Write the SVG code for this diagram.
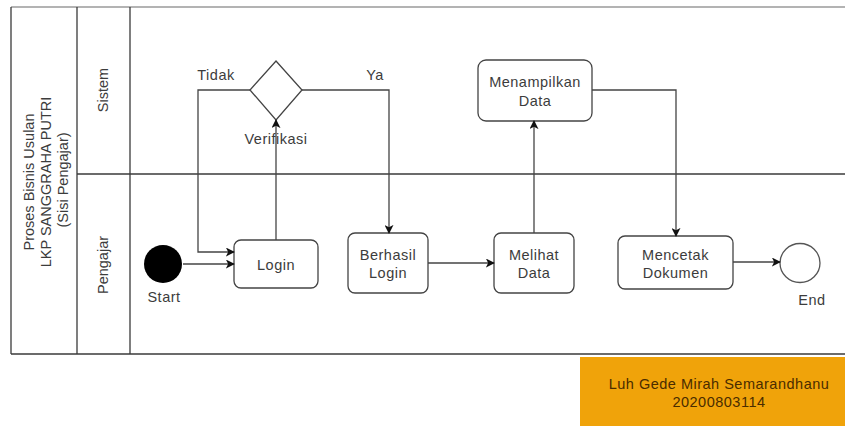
<svg xmlns="http://www.w3.org/2000/svg" width="845" height="426" viewBox="0 0 845 426">
  <style>
    .lane { fill: none; stroke: #3a3a3a; stroke-width: 1.3; }
    .box { fill: #ffffff; stroke: #444444; stroke-width: 1.3; }
    .t { font-family: "Liberation Sans", Arial, sans-serif; font-size: 14.5px; fill: #3c3c3c; text-anchor: middle; letter-spacing: 0.5px; }
    .tv { font-family: "Liberation Sans", Arial, sans-serif; font-size: 14.5px; fill: #3c3c3c; text-anchor: middle; }
    .edge { fill: none; stroke: #444444; stroke-width: 1.3; }
  </style>
  <defs>
    <marker id="arrow" viewBox="0 0 10 10" refX="9" refY="5" markerWidth="9" markerHeight="9" markerUnits="userSpaceOnUse" orient="auto">
      <path d="M0,0 L10,5 L0,10 L2.5,5 Z" fill="#111111"/>
    </marker>
  </defs>

  <rect width="845" height="426" fill="#ffffff"/>

  <!-- pool frame and lanes -->
  <g id="pool">
    <line x1="11" y1="7" x2="845" y2="7" stroke="#9a9a9a" stroke-width="1.3"/>
    <line class="lane" x1="11" y1="7" x2="11" y2="354"/>
    <line class="lane" x1="77" y1="7" x2="77" y2="354"/>
    <line class="lane" x1="130" y1="7" x2="130" y2="354"/>
    <line class="lane" x1="77" y1="174" x2="845" y2="174"/>
    <line class="lane" x1="11" y1="354" x2="845" y2="354"/>
    <text class="tv" transform="translate(47,180) rotate(-90)">
      <tspan x="0" y="-13">Proses Bisnis Usulan</tspan>
      <tspan x="0" y="4">LKP SANGGRAHA PUTRI</tspan>
      <tspan x="0" y="21">(Sisi Pengajar)</tspan>
    </text>
    <text class="tv" transform="translate(103,90) rotate(-90)" y="5">Sistem</text>
    <text class="tv" transform="translate(103,265) rotate(-90)" y="5">Pengajar</text>
  </g>

  <!-- start event -->
  <g id="start">
    <circle cx="163" cy="264" r="19" fill="#000000"/>
    <text class="t" x="164" y="302">Start</text>
  </g>

  <g id="login">
    <rect class="box" x="234" y="240" width="84" height="48" rx="7"/>
    <text class="t" x="276" y="270">Login</text>
  </g>

  <g id="verifikasi">
    <polygon class="box" points="276,61 302,90 276,120 250,90"/>
    <text class="t" x="276" y="144">Verifikasi</text>
  </g>

  <g id="berhasil-login">
    <rect class="box" x="348" y="233" width="80" height="60" rx="7"/>
    <text class="t" x="388" y="260">Berhasil</text>
    <text class="t" x="388" y="278">Login</text>
  </g>

  <g id="melihat-data">
    <rect class="box" x="494" y="233" width="80" height="60" rx="7"/>
    <text class="t" x="534" y="260">Melihat</text>
    <text class="t" x="534" y="278">Data</text>
  </g>

  <g id="menampilkan-data">
    <rect class="box" x="478" y="60" width="114" height="61" rx="8"/>
    <text class="t" x="535" y="87">Menampilkan</text>
    <text class="t" x="535" y="106">Data</text>
  </g>

  <g id="mencetak-dokumen">
    <rect class="box" x="618" y="236" width="115" height="53" rx="7"/>
    <text class="t" x="675.5" y="260">Mencetak</text>
    <text class="t" x="675.5" y="278">Dokumen</text>
  </g>

  <!-- end event -->
  <g id="end">
    <ellipse cx="800" cy="263" rx="20" ry="19.5" fill="#ffffff" stroke="#555555" stroke-width="1.3"/>
    <text class="t" x="812" y="305">End</text>
  </g>

  <!-- connectors -->
  <g id="connectors">
    <line class="edge" x1="183" y1="264" x2="234" y2="264" marker-end="url(#arrow)"/>
    <line class="edge" x1="276" y1="240" x2="276" y2="120" marker-end="url(#arrow)"/>
    <polyline class="edge" points="250,90 198,90 198,252 234,252" marker-end="url(#arrow)"/>
    <text class="t" x="216" y="80">Tidak</text>
    <polyline class="edge" points="302,90 389,90 389,233" marker-end="url(#arrow)"/>
    <text class="t" x="375" y="80">Ya</text>
    <line class="edge" x1="428" y1="263" x2="494" y2="263" marker-end="url(#arrow)"/>
    <line class="edge" x1="534" y1="233" x2="534" y2="121" marker-end="url(#arrow)"/>
    <polyline class="edge" points="592,90 676,90 676,236" marker-end="url(#arrow)"/>
    <line class="edge" x1="733" y1="262" x2="780" y2="262" marker-end="url(#arrow)"/>
  </g>

  <!-- author note -->
  <g id="author">
    <rect x="580" y="357" width="265" height="69" fill="#f0a30a"/>
    <text class="t" x="719" y="389" style="fill:#4a2c00">Luh Gede Mirah Semarandhanu</text>
    <text class="t" x="719" y="407" style="fill:#4a2c00">20200803114</text>
  </g>
</svg>
